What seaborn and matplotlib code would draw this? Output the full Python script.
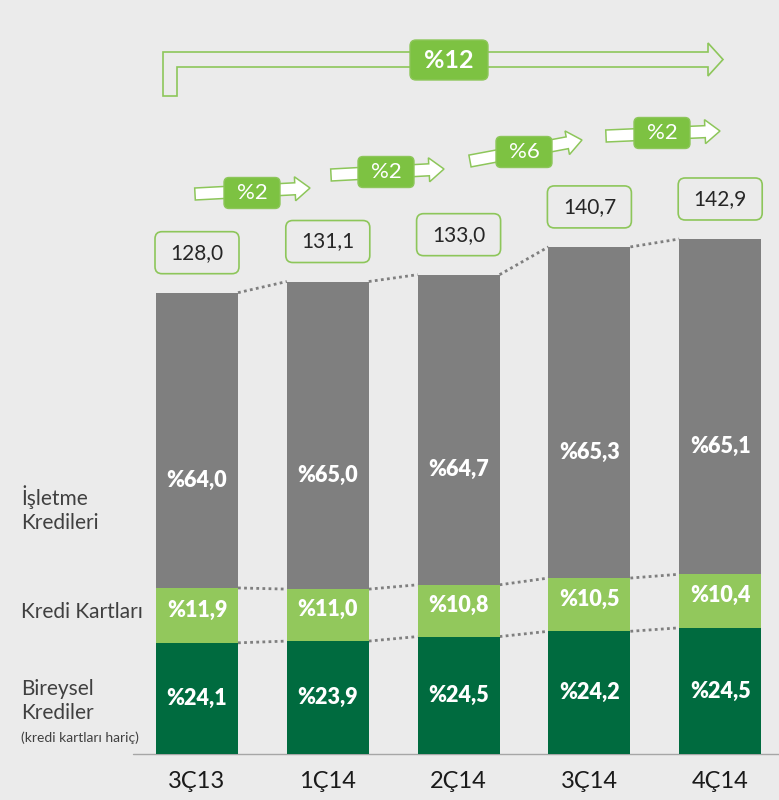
import numpy as np
import pandas as pd
import seaborn as sns
import matplotlib
matplotlib.use("Agg")
import matplotlib.pyplot as plt
from matplotlib.patches import FancyBboxPatch, Polygon, FancyArrow

# ---------------- data ----------------
periods = ["3Ç13", "1Ç14", "2Ç14", "3Ç14", "4Ç14"]
totals = [128.0, 131.1, 133.0, 140.7, 142.9]
share_bireysel = [24.1, 23.9, 24.5, 24.2, 24.5]
share_kart = [11.9, 11.0, 10.8, 10.5, 10.4]
share_isletme = [64.0, 65.0, 64.7, 65.3, 65.1]
growth_q = [2, 2, 6, 2]
growth_total = 12
series_names = ["İşletme\nKredileri", "Kredi Kartları", "Bireysel\nKrediler"]
series_note = "(kredi kartları hariç)"

# ---------------- style ----------------
BG = "#ebebeb"
GRAY = "#7f7f7f"
LG = "#92c85c"
DG = "#006b3f"
BOXG = "#7dc242"
EDGE = "#8dc65a"

sns.set_theme(style="white")
plt.rcParams['font.family'] = ['Lato', 'DejaVu Sans']

W, H = 779, 800
fig = plt.figure(figsize=(W / 100, H / 100), dpi=100, facecolor=BG)
ax = fig.add_axes([0, 0, 1, 1])
ax.set_facecolor(BG)

df = pd.DataFrame({"period": periods, "total": totals,
                   "b": share_bireysel, "k": share_kart, "i": share_isletme})
df["cum_dark"] = df["total"] * df["b"] / 100
df["cum_light"] = df["total"] * (df["b"] + df["k"]) / 100

bw = 0.627
for col, c in [("total", GRAY), ("cum_light", LG), ("cum_dark", DG)]:
    sns.barplot(data=df, x="period", y=col, color=c, width=bw, saturation=1,
                errorbar=None, linewidth=0, ax=ax, zorder=3)

# map data -> pixels: x=0 at px 197, step 130.8 ; y=0 at px 754 (from top), 3.604 px/unit
step, x0 = 130.8, 197
base, sc = 754, 3.604
ax.set_xlim(-x0 / step, (W - x0) / step)
ax.set_ylim(-(H - base) / sc, base / sc)
ax.axis("off")

# baseline
ax.plot([(133 - x0) / step, (W - x0) / step], [0, 0], color="#a6a6a6", lw=1, zorder=2)

# dotted connectors
n = len(periods)
for col in ["total", "cum_light", "cum_dark"]:
    v = df[col].values
    for i in range(n - 1):
        ax.plot([i + bw / 2, i + 1 - bw / 2], [v[i], v[i + 1]], color=GRAY,
                lw=2, linestyle=(0, (1, 1.2)), zorder=2)

# segment labels
lab_kw = dict(color="white", fontsize=15.5, fontweight="heavy", ha="center",
              va="center", zorder=5)
for i, r in df.iterrows():
    ax.text(i, (r.cum_light + r.total) / 2 - 11, f"%{r.i:.1f}".replace(".", ","), **lab_kw)
    ax.text(i, (r.cum_dark + r.cum_light) / 2 + 1.5, f"%{r.k:.1f}".replace(".", ","), **lab_kw)
    ax.text(i, r.cum_dark / 2, f"%{r.b:.1f}".replace(".", ","), **lab_kw)
    ax.text(i, -7.5, r.period, color="#1a1a1a", fontsize=17, ha="center", va="center")

# overlay in pixel coordinates (origin bottom-left)
ov = fig.add_axes([0, 0, 1, 1], facecolor="none")
ov.set_xlim(0, W)
ov.set_ylim(0, H)
ov.axis("off")

# total boxes
for i, t in enumerate(totals):
    px, py = ax.transData.transform((i, t))
    cy = py + 40
    bx = FancyBboxPatch((px - 42, cy - 21), 84, 42,
                        boxstyle="round,pad=0,rounding_size=7",
                        fc=BG, ec=EDGE, lw=1.2)
    ov.add_patch(bx)
    ov.text(px, cy, f"{t:.1f}".replace(".", ","), fontsize=15, color="#262626",
            ha="center", va="center")

# big L-shaped arrow (top-origin pixel layout converted)
pts = [(163, 96), (163, 52), (708, 52), (708, 43), (723, 59.5), (708, 76),
       (708, 67), (177, 67), (177, 96)]
ov.add_patch(Polygon([(x, H - y) for x, y in pts], closed=True, fc=BG, ec=EDGE, lw=1.2))
ov.add_patch(FancyBboxPatch((410, H - 80), 78, 40, boxstyle="round,pad=0,rounding_size=6",
                            fc=BOXG, ec=EDGE, lw=1))
ov.text(449, H - 60, f"%{growth_total}", color="white", fontsize=18, fontweight="bold",
        ha="center", va="center")

# small growth arrows: (tail x, tail y, tip x, tip y, box cx, box cy) in top-origin px
arrow_layout = [(195, 194, 310, 188, 252, 193),
                (331, 175, 444, 169, 386, 172),
                (470, 161, 582, 140, 524, 152),
                (606, 136, 720, 131, 662, 133)]
for g, (tx, ty, hx, hy, cx, cy) in zip(growth_q, arrow_layout):
    ov.add_patch(FancyArrow(tx, H - ty, hx - tx, -(hy - ty), width=12, head_width=24,
                            head_length=15, length_includes_head=True,
                            fc="white", ec=EDGE, lw=1.1))
    ov.add_patch(FancyBboxPatch((cx - 28, H - cy - 15.5), 56, 31,
                                boxstyle="round,pad=0,rounding_size=5",
                                fc=BOXG, ec=EDGE, lw=1))
    ov.text(cx, H - cy, f"%{g}", color="white", fontsize=16, ha="center", va="center")

# left legend labels
lab_col = "#404040"
fig.text(21 / W, 1 - 509 / H, series_names[0], fontsize=15, color=lab_col,
         va="center", ha="left", linespacing=1.3)
fig.text(21 / W, 1 - 612 / H, series_names[1], fontsize=15, color=lab_col,
         va="center", ha="left")
fig.text(21 / W, 1 - 701 / H, series_names[2], fontsize=15, color=lab_col,
         va="center", ha="left", linespacing=1.3)
fig.text(21 / W, 1 - 738 / H, series_note, fontsize=10, color=lab_col,
         va="center", ha="left")

fig.savefig("out.png", dpi=100, facecolor=BG)
